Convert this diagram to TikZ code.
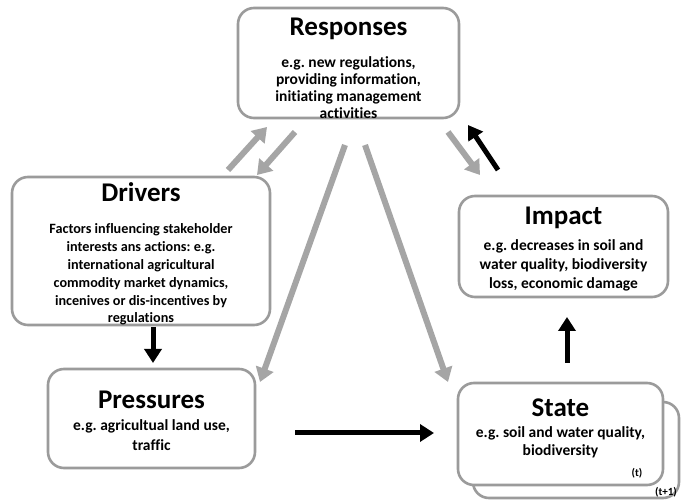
\documentclass[tikz,border=0pt]{standalone}
\usepackage{fontspec}
\setmainfont{Carlito}[RawFeature={-liga;-clig;-calt;-dlig}]
\frenchspacing
\usetikzlibrary{arrows.meta}
\definecolor{boxgray}{RGB}{155,155,155}
\definecolor{arrgray}{RGB}{165,165,165}
\newcommand{\firstline}{\rule{0pt}{14pt}}
\begin{document}
\begin{tikzpicture}[x=1pt,y=-1pt,
  box/.style={draw=boxgray, line width=2.6pt, rounded corners=16pt, fill=white, inner sep=0pt},
  ttl/.style={anchor=base, inner sep=0pt, font=\bfseries\fontsize{27}{27}\selectfont},
  body/.style 2 args={anchor=north, inner sep=0pt, align=center, font=\bfseries\frenchspacing\fontsize{#1}{#2}\selectfont},
  small/.style={anchor=base, inner sep=0pt, font=\bfseries\fontsize{11}{12}\selectfont},
  garrow/.style={draw=arrgray, line width=6pt, -{Triangle[width=18pt,length=14pt]}},
  barrow/.style={draw=black, line width=5pt, -{Triangle[width=17pt,length=14pt]}}]
\useasboundingbox (0,0) rectangle (683,502);
\fill[white] (0,0) rectangle (683,502);
% boxes
\node[box, minimum width=221pt, minimum height=110pt] (resp) at (348.5,63) {};
\node[box, minimum width=258pt, minimum height=148pt] (drv) at (141,251) {};
\node[box, minimum width=207pt, minimum height=99pt] (prs) at (151.5,418.5) {};
\node[box, minimum width=209pt, minimum height=101pt] (imp) at (563.5,246.5) {};
\node[box, minimum width=206pt, minimum height=96pt] (stb) at (576,450) {};
\node[box, minimum width=205pt, minimum height=102pt] (st) at (560.5,434) {};
% texts (body nodes: north = first baseline - 14)
\node[ttl] (respT) at (348.5,36) {Responses};
\node[body={15.5}{17.2}] (respB) at (348.5,53) {\firstline e.g. new regulations,\\providing information,\\initiating management\\activities};
\node[ttl] (drvT) at (141,202) {Drivers};
\node[body={14.2}{17.9}] (drvB) at (141,219.3) {\firstline Factors influencing stakeholder\\interests ans actions: e.g.\\international agricultural\\commodity market dynamics,\\incenives or dis-incentives by\\regulations};
\node[ttl] (prsT) at (151.5,408.3) {Pressures};
\node[body={15.5}{19.5}] (prsB) at (151.5,416.5) {\firstline e.g. agricultual land use,\\traffic};
\node[ttl] (impT) at (563.5,225) {Impact};
\node[body={15.5}{19.2}] (impB) at (563.5,236) {\firstline e.g. decreases in soil and\\water quality, biodiversity\\loss, economic damage};
\node[ttl] (stT) at (560.5,417) {State};
\node[body={15.5}{18}] (stB) at (560.5,423) {\firstline e.g. soil and water quality,\\biodiversity};
\node[small] (stt) at (637,476) {(t)};
\node[small] (stt1) at (666,495) {(t+1)};
% arrow end points
\coordinate (a1s) at (228,170); \coordinate (a1e) at (267,127);
\coordinate (a2s) at (295,132); \coordinate (a2e) at (257,175);
\coordinate (a3s) at (345,145); \coordinate (a3e) at (260,382);
\coordinate (a4s) at (365,145); \coordinate (a4e) at (448,382);
\coordinate (a5s) at (448,132); \coordinate (a5e) at (480,175);
\coordinate (b1s) at (498,170); \coordinate (b1e) at (468,125);
\coordinate (b2s) at (153,327); \coordinate (b2e) at (153,363);
\coordinate (b3s) at (295,433); \coordinate (b3e) at (434,433);
\coordinate (b4s) at (567,363); \coordinate (b4e) at (567,317);
% arrows
\draw[garrow] (a1s) -- (a1e);
\draw[garrow] (a2s) -- (a2e);
\draw[garrow] (a3s) -- (a3e);
\draw[garrow] (a4s) -- (a4e);
\draw[garrow] (a5s) -- (a5e);
\draw[barrow] (b1s) -- (b1e);
\draw[barrow] (b2s) -- (b2e);
\draw[barrow] (b3s) -- (b3e);
\draw[barrow] (b4s) -- (b4e);
\end{tikzpicture}
\end{document}
